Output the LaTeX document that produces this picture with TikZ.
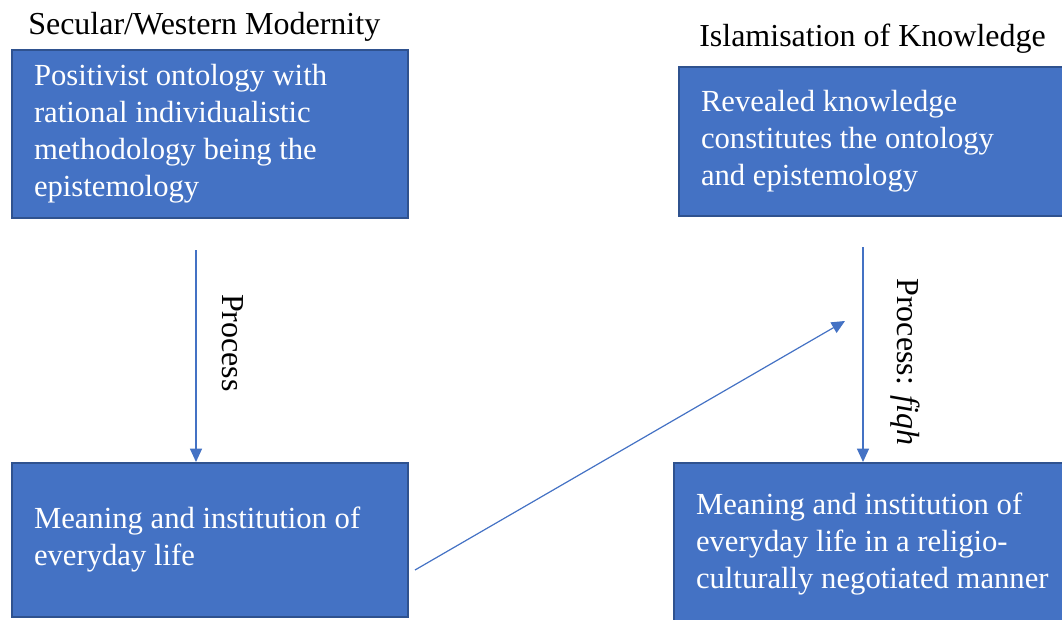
\documentclass[tikz,border=0pt]{standalone}
\usepackage{fontspec}
\setmainfont{Liberation Serif}
\usepackage{tikz}
\usetikzlibrary{arrows.meta, positioning}

\definecolor{boxfill}{HTML}{4472C4}
\definecolor{boxedge}{HTML}{2F528F}

\begin{document}
\begin{tikzpicture}[x=0.75pt, y=-0.75pt, >={Triangle[length=10pt, width=9pt]},
    box/.style={draw=boxedge, line width=1.5pt, fill=boxfill, rectangle, text=white, align=flush left, inner xsep=16.5pt, inner ysep=0pt, font=\fontsize{23}{27.75}\selectfont},
    title/.style={inner sep=0pt, anchor=base west, font=\fontsize{24}{27.75}\selectfont},
    lbl/.style={inner sep=0pt, rotate=-90, font=\fontsize{24}{27.75}\selectfont},
    flow/.style={->, draw=boxfill, line width=0.9pt}]
    \useasboundingbox (0,0) rectangle (1062,620);

    \node [title] (secular) at (28,35) {Secular/Western Modernity};
    \node [title] (islamic) at (699,47) {Islamisation of Knowledge};

    % boxes on the right run past the picture's edge
    \node [box, text width=264pt, minimum height=126pt] (pos) at (210,134) {Positivist ontology with\\rational individualistic\\methodology being the\\epistemology};
    \node [box, text width=264pt, minimum height=111.75pt] (rev) at (877,141.5) {Revealed knowledge\\constitutes the ontology\\and epistemology};
    \node [box, text width=264pt, minimum height=115.5pt] (mean) at (210,540) {Meaning and institution of\\everyday life};
    \node [box, text width=270pt, minimum height=121.5pt] (neg) at (876,544) {Meaning and institution of\\everyday life in a religio-\\culturally negotiated manner};

    \coordinate (lstart) at (196,250);
    \coordinate (rstart) at (863,247);
    \coordinate (dstart) at (415,570);
    \coordinate (dend) at (845,321);

    \draw[flow] (lstart) -- (lstart |- mean.north);
    \draw[flow] (rstart) -- (rstart |- neg.north);
    \draw[flow] (dstart) -- (dend);

    \node [lbl] (proc) at (233,343) {Process};
    \node [lbl] (fiqh) at (905,362) {Process: \textit{fiqh}};
\end{tikzpicture}
\end{document}
